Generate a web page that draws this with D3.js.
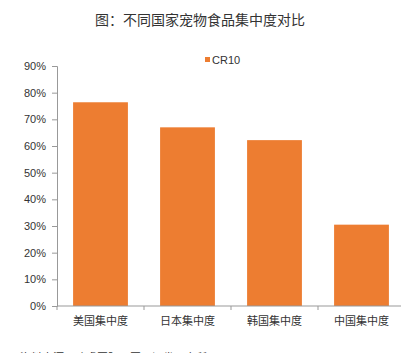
<!DOCTYPE html>
<html>
<head>
<meta charset="utf-8">
<script src="https://cdn.jsdelivr.net/npm/d3@7"></script>
<style>
  html, body { margin: 0; padding: 0; background: #fff; }
  svg { display: block; font-family: "Noto Sans CJK SC", "Liberation Sans", sans-serif; }
</style>
</head>
<body>
<div id="chart"></div>
<script>
var categories = ["美国集中度", "日本集中度", "韩国集中度", "中国集中度"];
var cr10 = [0.764, 0.670, 0.622, 0.305];
var yTicks = [0, 0.1, 0.2, 0.3, 0.4, 0.5, 0.6, 0.7, 0.8, 0.9];

var W = 401, H = 353;
var margin = { top: 66, right: -4, bottom: 47, left: 57 };
var width = W - margin.left - margin.right;
var height = H - margin.top - margin.bottom;

var svg = d3.select("#chart").append("svg")
    .attr("width", W)
    .attr("height", H);

// Title
svg.append("text")
    .attr("x", 200)
    .attr("y", 25)
    .attr("text-anchor", "middle")
    .attr("font-size", "14px")
    .attr("fill", "#333")
    .text("图：不同国家宠物食品集中度对比");

var g = svg.append("g")
    .attr("transform", "translate(" + margin.left + "," + margin.top + ")");

var x = d3.scaleBand().domain(categories).range([0, width]).paddingInner(0.37).paddingOuter(0.185);
var y = d3.scaleLinear().domain([0, 0.9]).range([height, 0]);

// Bars
g.selectAll("rect.bar").data(cr10).enter().append("rect")
    .attr("class", "bar")
    .attr("x", function (d, i) { return x(categories[i]); })
    .attr("y", function (d) { return y(d); })
    .attr("width", x.bandwidth())
    .attr("height", function (d) { return height - y(d); })
    .attr("fill", "#ED7D31");

// Y axis
var yAxis = g.append("g")
    .call(d3.axisLeft(y).tickValues(yTicks).tickFormat(d3.format(".0%")).tickSize(5).tickPadding(6));
yAxis.select(".domain").attr("stroke", "#999");
yAxis.selectAll(".tick line").attr("stroke", "#999");
yAxis.selectAll("text").attr("font-size", "11px").attr("fill", "#333")
    .attr("font-family", "Liberation Sans, sans-serif");

// X axis
var band = x.step();
var xAxis = g.append("g")
    .attr("transform", "translate(0," + height + ")");
xAxis.append("line")
    .attr("x1", 0).attr("x2", width)
    .attr("stroke", "#999");
xAxis.selectAll("line.tk").data(d3.range(categories.length + 1)).enter().append("line")
    .attr("class", "tk")
    .attr("x1", function (d) { return d * band; })
    .attr("x2", function (d) { return d * band; })
    .attr("y1", 0).attr("y2", 4)
    .attr("stroke", "#999");
xAxis.selectAll("text").data(categories).enter().append("text")
    .attr("x", function (d) { return x(d) + x.bandwidth() / 2; })
    .attr("y", 19)
    .attr("text-anchor", "middle")
    .attr("font-size", "11px")
    .attr("fill", "#333")
    .text(function (d) { return d; });

// Legend
svg.append("rect")
    .attr("x", 205).attr("y", 57)
    .attr("width", 5).attr("height", 5)
    .attr("fill", "#ED7D31");
svg.append("text")
    .attr("x", 212).attr("y", 64)
    .attr("font-size", "11px")
    .attr("fill", "#333")
    .attr("font-family", "Liberation Sans, sans-serif")
    .text("CR10");

// Source (cut off at the bottom edge, as in the original)
svg.append("text")
    .attr("x", 20).attr("y", 362)
    .attr("font-size", "11px")
    .attr("fill", "#333")
    .text("资料来源：欧睿国际，国元证券研究所");
</script>
</body>
</html>
